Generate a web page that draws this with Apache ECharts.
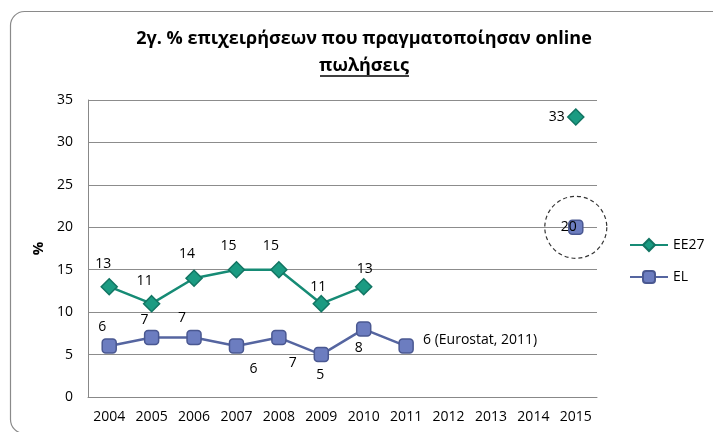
<!DOCTYPE html>
<html>
<head>
<meta charset="utf-8">
<script src="https://cdn.jsdelivr.net/npm/echarts@6/dist/echarts.min.js"></script>
<style>
    html, body { margin: 0; padding: 0; background: #fff; }
    #mainChart { width: 713px; height: 432px; }
</style>
</head>
<body>
<div id="mainChart"></div>
<script>
    const years = ['2004', '2005', '2006', '2007', '2008', '2009', '2010', '2011', '2012', '2013', '2014', '2015'];
    const ee27Values = [13, 11, 14, 15, 15, 11, 13, null, null, null, null, 33];
    const elValues = [6, 7, 7, 6, 7, 5, 8, 6, null, null, null, 20];
    const elLabels = ['6', '7', '7', '6', '7', '5', '8', '6 (Eurostat, 2011)', '', '', '', '20'];
    const highlightPoint = ['2015', 20];

    // label offsets (pixels) from the marker centre
    const ee27Offsets = [[-6, -23], [-7, -23], [-7, -24], [-8, -24], [-8, -24], [-3, -17], [1, -18], null, null, null, null, [-19, 0]];
    const elOffsets = [[-7, -19], [-7, -18], [-12, -20], [17, 23], [14, 25], [-1, 20], [-5, 19], [74, -6], null, null, null, [-7, 0]];

    const fontFamily = '"Open Sans", "Noto Sans", sans-serif';

    function buildData(values, labels, offsets) {
        return values.map(function (v, i) {
            if (v == null) {
                return v;
            }
            return {
                value: v,
                label: {
                    show: true,
                    position: 'inside',
                    offset: offsets[i],
                    formatter: labels[i]
                }
            };
        });
    }

    const myChart = echarts.init(document.getElementById('mainChart'));
    const option = {
        animation: false,
        title: {
            text: '2γ. % επιχειρήσεων που πραγματοποίησαν online\nπωλήσεις',
            left: 359,
            top: 20,
            textAlign: 'center',
            textStyle: {
                fontFamily: fontFamily,
                fontSize: 18,
                fontWeight: 'bold',
                color: '#000',
                lineHeight: 27
            }
        },
        legend: {
            orient: 'vertical',
            left: 624,
            top: 233,
            itemGap: 18,
            itemWidth: 38,
            itemHeight: 15,
            data: ['EE27', 'EL'],
            textStyle: {
                fontFamily: fontFamily,
                fontSize: 14,
                color: '#000'
            }
        },
        grid: {
            left: 88,
            right: 116,
            top: 100,
            bottom: 35
        },
        xAxis: {
            type: 'category',
            data: years,
            boundaryGap: true,
            axisLine: { lineStyle: { color: '#888', width: 1 } },
            axisTick: { show: false },
            axisLabel: {
                margin: 13,
                fontFamily: fontFamily,
                fontSize: 14,
                color: '#000'
            }
        },
        yAxis: {
            type: 'value',
            min: 0,
            max: 35,
            interval: 5,
            name: '%',
            nameLocation: 'middle',
            nameGap: 40,
            nameTextStyle: {
                fontFamily: fontFamily,
                fontSize: 15,
                fontWeight: 'bold',
                color: '#000'
            },
            axisLine: { show: true, lineStyle: { color: '#888', width: 1 } },
            axisTick: { show: false },
            axisLabel: {
                margin: 15,
                fontFamily: fontFamily,
                fontSize: 14,
                color: '#000'
            },
            splitLine: { lineStyle: { color: '#8c8c8c', width: 1 } }
        },
        series: [
            {
                name: 'EE27',
                type: 'line',
                data: buildData(ee27Values, ee27Values.map(String), ee27Offsets),
                connectNulls: false,
                symbol: 'diamond',
                symbolSize: 16,
                lineStyle: { color: '#168b75', width: 2.5 },
                itemStyle: { color: '#1b9b82', borderColor: '#127563', borderWidth: 1.5 },
                label: {
                    fontFamily: fontFamily,
                    fontSize: 14,
                    color: '#000'
                },
                z: 3
            },
            {
                name: 'EL',
                type: 'line',
                data: buildData(elValues, elLabels, elOffsets),
                connectNulls: false,
                symbol: 'roundRect',
                symbolSize: 14,
                lineStyle: { color: '#5565a0', width: 2.5 },
                itemStyle: { color: '#6c7dc0', borderColor: '#4a5891', borderWidth: 1.5 },
                label: {
                    fontFamily: fontFamily,
                    fontSize: 14,
                    color: '#000'
                },
                z: 3
            },
            {
                name: 'highlight',
                type: 'scatter',
                data: [highlightPoint],
                symbol: 'circle',
                symbolSize: 62,
                silent: true,
                itemStyle: {
                    color: 'rgba(255,255,255,0)',
                    borderColor: '#000',
                    borderWidth: 1.2,
                    borderType: [4, 3]
                },
                z: 1
            }
        ],
        graphic: [
            {
                type: 'rect',
                left: 8,
                top: 9,
                shape: { x: 0, y: 0, width: 716, height: 422, r: 14 },
                style: { fill: 'none', stroke: '#8a8a8a', lineWidth: 1.2 },
                silent: true,
                z: -1
            },
            {
                type: 'line',
                shape: { x1: 320, y1: 76, x2: 409, y2: 76 },
                style: { stroke: '#000', lineWidth: 1.3 },
                silent: true
            }
        ]
    };
    myChart.setOption(option);
</script>
</body>
</html>
